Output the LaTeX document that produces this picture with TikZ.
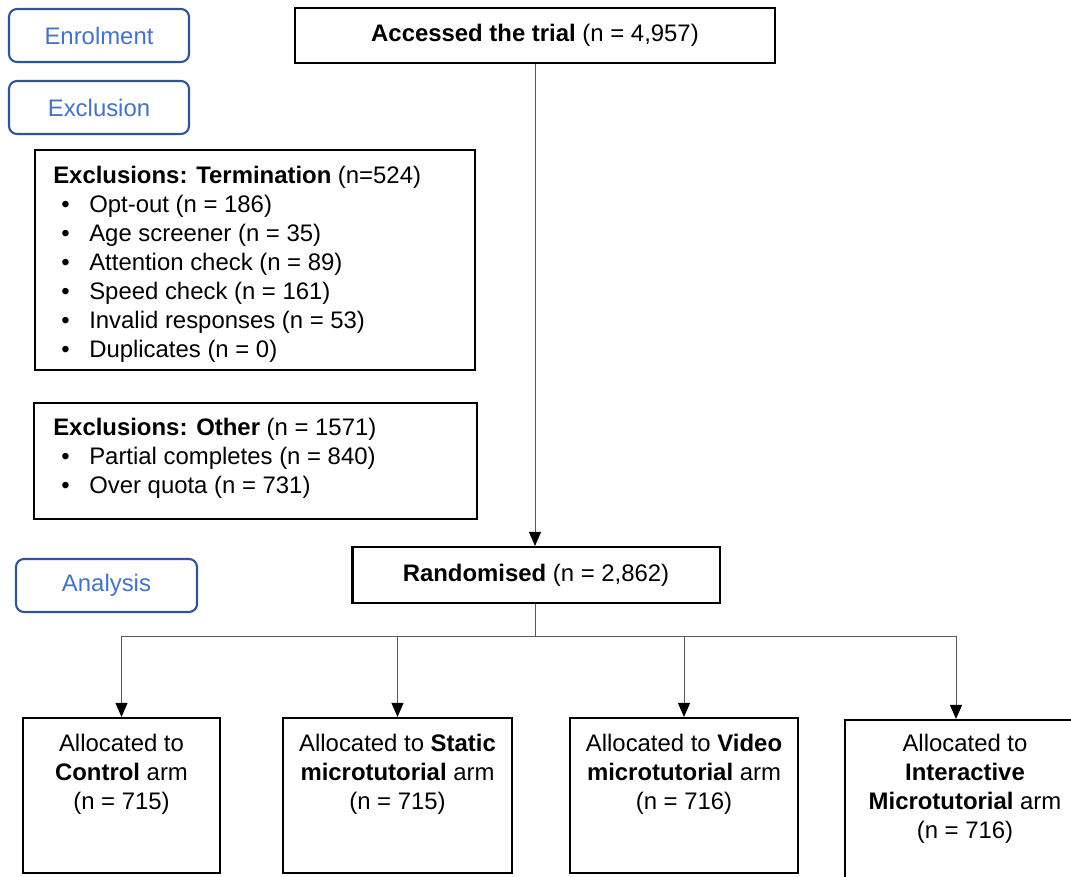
\documentclass[tikz,border=0pt]{standalone}
\usepackage{fontspec}
\setmainfont{Liberation Sans}
\usetikzlibrary{arrows.meta,positioning}
\definecolor{stageblue}{HTML}{2F5597}
\definecolor{stagetext}{HTML}{4472C4}
\newcommand{\bul}{\hspace*{0.2cm}\makebox[0.7cm][l]{•}}

\tikzset{
	stage/.style={draw=stageblue, line width=1.5pt, rounded corners=0.2cm, text=stagetext, minimum width=4.5cm, minimum height=1.325cm},
	flowbox/.style={draw=black, line width=1.5pt, fill=white},
	txt/.style={inner sep=0pt, font=\fontsize{17}{20.6}\selectfont},
	link/.style={draw=gray!70!black, line width=0.6pt},
	arr/.style={link, -{Triangle[width=0.3cm,length=0.35cm,color=black]}},
}

\begin{document}
\begin{tikzpicture}[x=0.025cm, y=-0.025cm, font=\fontsize{17}{20.6}\selectfont]
		\useasboundingbox (0,0) rectangle (1071,876);
		\clip (0,0) rectangle (1071,876);
		
		% stage labels
		\node[stage] (enrol) at (99,35.5) {Enrolment};
		\node[stage] (excl) at (99,107.5) {Exclusion};
		\node[stage, minimum width=4.525cm] (analysis) at (106.5,585.5) {Analysis};
		
		% main flow
		\node[flowbox, minimum width=12cm, minimum height=1.375cm] (access) at (535,35.5) {\textbf{Accessed the trial} (n = 4,957)};
		\node[flowbox, minimum width=9.175cm, minimum height=1.4cm] (rand) at (536,575) {\textbf{Randomised} (n = 2,862)};
		
		% exclusions
		\node[flowbox, minimum width=11cm, minimum height=5.5cm] (term) at (255,260) {};
		\node[txt, anchor=north west, align=left] (termtxt) at (53,166) {\textbf{Exclusions: Termination} (n=524)\\
			\bul Opt-out (n = 186)\\
			\bul Age screener (n = 35)\\
			\bul Attention check (n = 89)\\
			\bul Speed check (n = 161)\\
			\bul Invalid responses (n = 53)\\
			\bul Duplicates (n = 0)};
		
		\node[flowbox, minimum width=11.075cm, minimum height=2.9cm] (other) at (255.5,461) {};
		\node[txt, anchor=north west, align=left] (othertxt) at (53,418) {\textbf{Exclusions: Other} (n = 1571)\\
			\bul Partial completes (n = 840)\\
			\bul Over quota (n = 731)};
		
		% arms
		\node[flowbox, minimum width=4.925cm, minimum height=3.875cm] (ctrl) at (121.5,795.5) {};
		\node[flowbox, minimum width=5.725cm, minimum height=3.875cm] (static) at (397.5,795.5) {};
		\node[flowbox, minimum width=5.7cm, minimum height=3.875cm] (video) at (684,795.5) {};
		\node[flowbox, minimum width=6cm, minimum height=4.25cm] (inter) at (965,805) {};
		
		\node[txt, align=center, below=0.42cm of ctrl.north] (ctrltxt) {Allocated to\\\textbf{Control} arm\\(n = 715)};
		\node[txt, align=center, below=0.42cm of static.north] (statictxt) {Allocated to \textbf{Static}\\\textbf{microtutorial} arm\\(n = 715)};
		\node[txt, align=center, below=0.42cm of video.north] (videotxt) {Allocated to \textbf{Video}\\\textbf{microtutorial} arm\\(n = 716)};
		\node[txt, align=center, below=0.37cm of inter.north] (intertxt) {Allocated to\\\textbf{Interactive}\\\textbf{Microtutorial} arm\\(n = 716)};
		
		% connectors
		\draw[arr] (access.south) -- (access.south |- rand.north);
		\coordinate (fork) at (535,636);
		\draw[link] (rand.south -| fork) -- (fork);
		\draw[arr] (fork) -| (ctrl.north);
		\draw[arr] (fork) -| (static.north);
		\draw[arr] (fork) -| (video.north);
		\draw[arr] (fork) -| ([xshift=-0.225cm]inter.north);
	\end{tikzpicture}
\end{document}
